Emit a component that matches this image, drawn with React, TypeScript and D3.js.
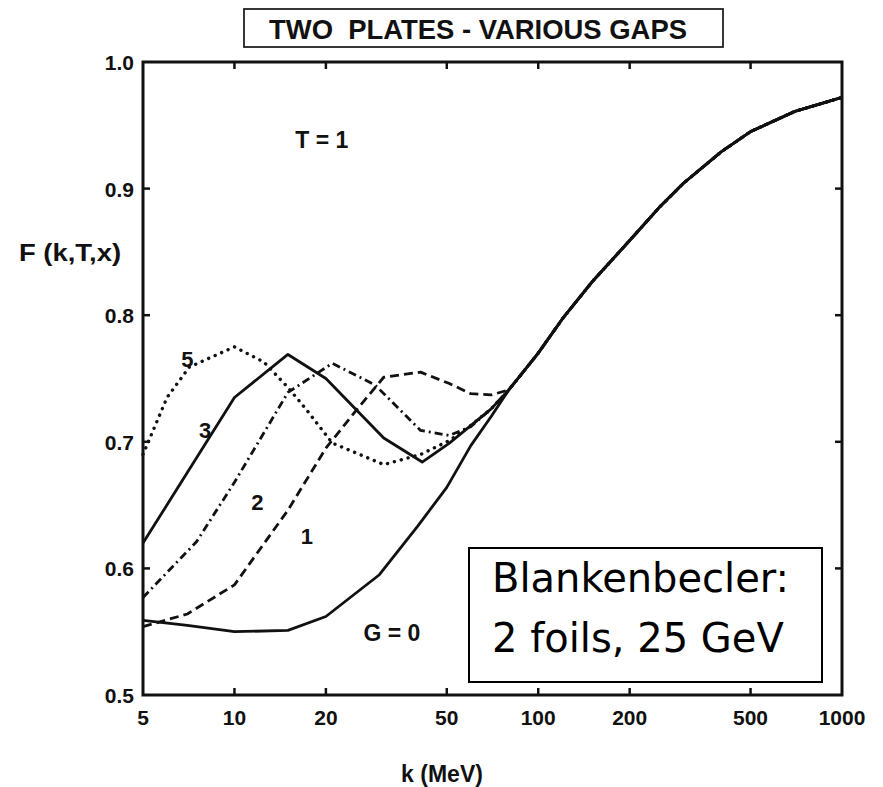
import React from "react";
import * as d3 from "d3";

// values
const xTicks = [5, 10, 20, 50, 100, 200, 500, 1000];
const yTicks = [0.5, 0.6, 0.7, 0.8, 0.9, 1.0];

// common high-k tail all gaps converge onto
const kTail = [100, 120, 150, 200, 250, 300, 400, 500, 700, 1000];
const vTail = [0.77, 0.797, 0.826, 0.859, 0.885, 0.904, 0.929, 0.945, 0.961, 0.972];

const kG0 = [5, 7, 10, 15, 20, 30, 40, 50, 60, 70, 80];
const vG0 = [0.559, 0.555, 0.55, 0.551, 0.562, 0.595, 0.633, 0.664, 0.697, 0.72, 0.741];

const kG1 = [5, 7, 10, 15, 20, 25, 31, 41, 51, 60, 70, 80];
const vG1 = [0.554, 0.564, 0.587, 0.646, 0.695, 0.724, 0.751, 0.755, 0.746, 0.738, 0.737, 0.741];

const kG2 = [5, 7.5, 10, 15, 21, 29, 41, 51, 60, 70, 80];
const vG2 = [0.577, 0.621, 0.668, 0.739, 0.762, 0.745, 0.709, 0.705, 0.712, 0.726, 0.741];

const kG3 = [5, 10, 15, 20, 31, 41.5, 51, 70, 80];
const vG3 = [0.62, 0.735, 0.769, 0.75, 0.703, 0.684, 0.699, 0.726, 0.741];

const kG5 = [5, 6, 7.1, 10, 12.5, 15, 17.3, 21, 31, 41, 51, 60, 70, 80];
const vG5 = [0.69, 0.735, 0.759, 0.775, 0.763, 0.743, 0.725, 0.699, 0.682, 0.69, 0.701, 0.713, 0.726, 0.741];

const series = [
  { k: kG0, v: vG0, dash: "none" },
  { k: kG1, v: vG1, dash: "9 5" },
  { k: kG2, v: vG2, dash: "8 4 2 4" },
  { k: kG3, v: vG3, dash: "none" },
  { k: kG5, v: vG5, dash: "0.1 7" },
];

const curveLabels = [
  { text: "5", k: 7.0, v: 0.765, size: 22 },
  { text: "3", k: 8.0, v: 0.709, size: 22 },
  { text: "2", k: 11.9, v: 0.652, size: 22 },
  { text: "1", k: 17.3, v: 0.625, size: 22 },
  { text: "G = 0", k: 33, v: 0.549, size: 23 },
  { text: "T = 1", k: 19.4, v: 0.938, size: 23 },
];

const font = "'Liberation Sans', Arial, sans-serif";

export default function App() {
  const x = d3.scaleLog().domain([5, 1000]).range([143, 842]);
  const y = d3.scaleLinear().domain([0.5, 1.0]).range([695, 62]);
  const [x0, x1] = x.range();
  const [y0, y1] = y.range();

  const line = d3
    .line<[number, number]>()
    .x((d) => x(d[0]))
    .y((d) => y(d[1]));

  const innerX = xTicks.slice(1, -1);
  const innerY = yTicks.slice(1, -1);

  return (
    <svg
      width={883}
      height={787}
      style={{ position: "absolute", left: 0, top: 0, background: "#fff" }}
    >
      {/* title box */}
      <rect x={244} y={9} width={479} height={38} fill="none" stroke="#222" strokeWidth={1.8} />
      <text
        x={478}
        y={39}
        textAnchor="middle"
        fontFamily={font}
        fontWeight="bold"
        fontSize={28}
        textLength={418}
        lengthAdjust="spacingAndGlyphs"
        fill="#111"
        style={{ whiteSpace: "pre" }}
      >
        {"TWO  PLATES - VARIOUS GAPS"}
      </text>

      {/* curves */}
      {series.map((s, i) => {
        const pts: [number, number][] = s.k.map((k, j) => [k, s.v[j]]);
        kTail.forEach((k, j) => pts.push([k, vTail[j]]));
        return (
          <path
            key={i}
            d={line(pts) || ""}
            fill="none"
            stroke="#111"
            strokeWidth={s.dash === "0.1 7" ? 3.4 : 2.8}
            strokeDasharray={s.dash}
            strokeLinecap={s.dash === "0.1 7" ? "round" : "butt"}
            strokeLinejoin="round"
          />
        );
      })}

      {/* frame */}
      <rect x={x0} y={y1} width={x1 - x0} height={y0 - y1} fill="none" stroke="#111" strokeWidth={3} />
      {innerX.map((t) => (
        <g key={"xt" + t}>
          <line x1={x(t)} x2={x(t)} y1={y0} y2={y0 - 7} stroke="#111" strokeWidth={2.5} />
          <line x1={x(t)} x2={x(t)} y1={y1} y2={y1 + 7} stroke="#111" strokeWidth={2.5} />
        </g>
      ))}
      {innerY.map((t) => (
        <g key={"yt" + t}>
          <line x1={x0} x2={x0 + 7} y1={y(t)} y2={y(t)} stroke="#111" strokeWidth={2.5} />
          <line x1={x1} x2={x1 - 7} y1={y(t)} y2={y(t)} stroke="#111" strokeWidth={2.5} />
        </g>
      ))}

      {/* tick labels */}
      {xTicks.map((t) => (
        <text
          key={"xl" + t}
          x={x(t)}
          y={725}
          textAnchor="middle"
          fontFamily={font}
          fontWeight="bold"
          fontSize={21}
          fill="#111"
        >
          {t}
        </text>
      ))}
      {yTicks.map((t) => (
        <text
          key={"yl" + t}
          x={134}
          y={y(t) + 8}
          textAnchor="end"
          fontFamily={font}
          fontWeight="bold"
          fontSize={21}
          fill="#111"
        >
          {t.toFixed(1)}
        </text>
      ))}

      {/* axis titles */}
      <text x={442} y={782} textAnchor="middle" fontFamily={font} fontWeight="bold" fontSize={23} fill="#111">
        k (MeV)
      </text>
      <text
        x={70}
        y={261}
        textAnchor="middle"
        fontFamily={font}
        fontWeight="bold"
        fontSize={24}
        textLength={102}
        lengthAdjust="spacingAndGlyphs"
        fill="#111"
      >
        F (k,T,x)
      </text>

      {/* curve labels */}
      {curveLabels.map((l) => (
        <text
          key={l.text}
          x={x(l.k)}
          y={y(l.v)}
          textAnchor="middle"
          dominantBaseline="central"
          fontFamily={font}
          fontWeight="bold"
          fontSize={l.size}
          fill="#111"
        >
          {l.text}
        </text>
      ))}

      {/* annotation box */}
      <rect x={469} y={548} width={353} height={134} fill="#fff" stroke="#000" strokeWidth={2} />
      <text x={492} y={592} fontFamily="'DejaVu Sans', Verdana, sans-serif" fontSize={40} fill="#000">
        Blankenbecler:
      </text>
      <text x={492} y={652} fontFamily="'DejaVu Sans', Verdana, sans-serif" fontSize={40} fill="#000">
        2 foils, 25 GeV
      </text>
    </svg>
  );
}
